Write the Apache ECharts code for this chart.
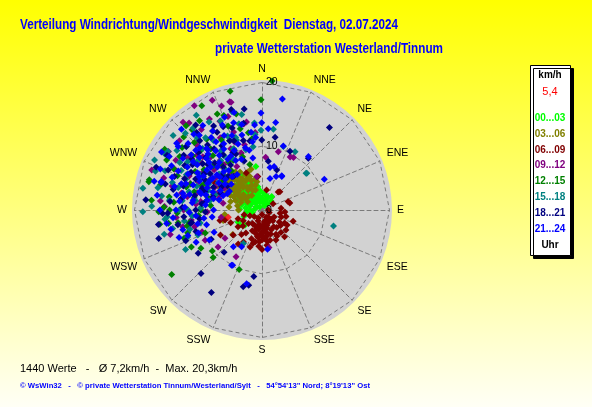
<!DOCTYPE html>
<html><head><meta charset="utf-8">
<script src="https://cdn.jsdelivr.net/npm/echarts@6/dist/echarts.min.js"></script>
<style>html,body{margin:0;padding:0;background:#fff;}#c{width:592px;height:407px;}</style>
</head><body><div id="c"></div>
<script>
// ---- labels ----
const dirLabels = ['N','NNE','NE','ENE','E','ESE','SE','SSE','S','SSW','SW','WSW','W','WNW','NW','NNW'];
const radiusTicks = [0, 10, 20];
const hourGroups = ['00...03','03...06','06...09','09...12','12...15','15...18','18...21','21...24'];
const hourColors = ['#00ff00','#808000','#800000','#800080','#008000','#008080','#000080','#0000ff'];
const titleText = 'Verteilung Windrichtung/Windgeschwindigkeit  Dienstag, 02.07.2024';
const subtitleText = 'private Wetterstation Westerland/Tinnum';
const statsText = '1440 Werte   -   Ø 7,2km/h  -  Max. 20,3km/h';
const footerText = '© WsWin32   -   © private Wetterstation Tinnum/Westerland/Sylt   -   54°54\'13" Nord; 8°19\'13" Ost';
const currentLabel = '5,4';

// ---- data: [speed km/h, direction deg] ----
const h00_03 = [[3.2,322],[2.8,330],[3.6,315],[4.1,318],[2.5,340],[1.8,335],[2.2,310],[3.0,305],[4.4,308],[3.8,328],[1.5,350],[2.0,355],[1.2,5],[1.6,18],[2.4,12],[0.8,30],[1.0,300],[3.4,298],[4.0,295],[4.8,312],[5.2,320],[4.6,332],[3.9,340],[2.9,348],[2.1,322],[1.4,318],[2.7,295],[3.3,285],[2.6,278],[1.9,270],[3.5,272],[4.2,300],[5.5,305],[5.0,296],[4.3,325],[3.1,338],[2.3,345],[1.7,2],[2.6,8],[3.0,355],[3.7,350],[4.6,345],[0.6,320],[1.1,280],[2.0,290],[2.9,315],[3.6,302],[4.9,326],[5.6,316],[6.2,330],[6.9,352],[2.2,25],[1.3,40],[3.3,310],[4.0,335],[2.5,262],[1.6,255],[3.0,250],[2.6,36],[2.0,45],[4.2,236],[3.6,228],[4.2,243],[3.4,326],[4.5,315],[2.4,332],[1.9,312],[3.9,305],[5.1,334],[4.7,340],[2.8,352],[3.2,345],[1.3,345],[5.8,325],[2.0,300],[4.1,290],[3.7,338],[2.5,318]];
const h03_06 = [[5.0,313],[4.6,320],[5.4,305],[6.0,310],[3.8,325],[4.2,300],[6.5,318],[5.8,328],[3.4,335],[4.9,340],[6.8,300],[7.2,308],[5.5,295],[4.4,290],[3.6,298],[6.2,335],[7.0,322],[5.2,330],[4.0,345],[3.0,315],[4.7,310],[5.9,302],[6.6,292],[5.1,285],[3.9,280],[7.5,315],[6.9,330],[5.6,340],[4.5,350],[3.2,305],[2.8,325],[5.3,318],[6.3,325],[4.1,332],[5.7,312],[6.1,297],[4.8,302],[3.5,290],[7.8,305],[6.4,340],[5.0,348],[3.3,342],[4.3,327],[5.6,323],[6.7,312],[2.6,300],[5.9,263],[6.3,255],[3.7,270],[5.2,275],[6.0,230],[5.4,312],[6.0,320],[4.6,306],[5.8,300],[6.9,315],[7.3,325],[4.9,295],[5.5,335],[6.4,305],[3.8,310],[7.6,298],[6.6,345],[4.2,338],[5.0,322],[7.0,292]];
const h06_09 = [[2.5,162],[2.0,150],[3.0,170],[1.5,140],[3.5,180],[2.8,195],[1.8,200],[4.0,160],[3.2,145],[4.5,175],[2.2,120],[3.8,130],[1.2,110],[4.2,190],[5.0,185],[3.6,205],[2.6,215],[4.8,200],[1.6,230],[3.0,225],[4.4,215],[5.4,195],[6.1,198],[5.1,192],[4.3,188],[3.4,155],[2.4,135],[4.6,140],[4.1,120],[3.2,110],[4.6,121],[4.3,72],[3.8,42],[4.0,44.5],[3.2,13],[4.5,76],[3.6,95],[2.9,100],[3.9,105],[1.0,90],[0.7,180],[1.9,170],[2.7,178],[3.7,168],[4.9,165],[5.6,172],[5.2,155],[2.1,245],[3.4,240],[4.6,235],[6.0,229],[7.6,239],[6.8,256],[6.0,255],[5.3,248],[4.0,250],[2.9,255],[5.8,210],[6.5,215],[5.0,220],[3.9,230],[2.3,190],[1.4,205],[3.3,198],[4.7,150],[5.5,140],[2.0,60],[3.0,85],[5.2,110],[6.2,180],[4.1,178],[6.3,337],[5.3,353],[7.0,318],[8.5,300],[2.2,155],[2.9,165],[3.4,172],[3.9,183],[4.2,170],[2.6,185],[3.1,190],[1.7,160],[3.6,140],[4.4,150],[5.0,170],[4.7,180],[2.4,175],[3.8,195],[2.0,135],[3.3,125],[4.9,130],[5.7,185],[1.3,150],[2.7,205]];
const h09_12 = [[17.6,344],[18.9,335.6],[19.5,327],[18.5,318],[17.5,338.7],[17.7,343.4],[15.4,334.6],[9.5,15.6],[9.4,28],[9.6,31],[8.3,4],[9.0,230],[7.3,232.6],[10.9,256],[8.4,209],[6.0,169.5],[5.3,351],[10.2,320],[12.5,312],[8.8,305],[11.0,298],[13.6,325],[9.5,340],[7.4,318],[14.2,305],[12.0,290],[10.8,333],[8.2,296],[13.0,340],[11.6,316],[9.1,285],[15.6,300],[14.8,318],[7.9,330],[12.9,282],[10.4,275],[16.2,288],[8.6,268],[11.2,262],[13.5,265],[6.8,300],[9.8,310],[7.0,285],[14.0,350],[12.2,355],[15.8,323],[10.0,250],[6.5,260],[9.2,292],[11.0,302],[8.0,312],[12.6,295],[10.5,285],[7.5,290],[13.3,310],[9.7,278],[6.2,280],[11.8,322],[16.9,310],[15.1,295],[17.3,302],[14.6,285],[16.5,330],[13.8,348],[12.3,270],[14.9,255],[11.5,338],[15.6,340],[17.8,320],[10.6,345],[13.1,330],[16.0,275],[18.4,290],[12.0,308],[10.9,294],[14.5,315],[9.3,320],[11.9,280],[12.7,258],[10.1,242],[15.3,272]];
const h12_15 = [[20.3,4.5],[17.3,359.5],[19.3,345],[16.8,313],[16.7,319],[16.9,297.7],[18.3,285],[18.3,284],[16.2,269],[15.4,271.6],[13.3,261.4],[12.5,242.4],[10.1,230.5],[10.7,225.8],[17.4,234.5],[10.0,201],[11.5,318],[9.2,325],[13.8,308],[12.1,300],[10.5,335],[14.6,328],[8.4,312],[11.9,290],[13.2,345],[9.9,295],[15.0,315],[12.7,330],[7.8,322],[10.8,280],[14.3,292],[8.9,340],[12.3,350],[16.0,338],[11.1,305],[9.6,270],[13.9,275],[7.4,345],[10.3,312],[15.4,303],[12.0,258],[14.8,262],[8.0,288],[9.4,300],[11.0,285],[8.1,275],[12.5,320],[10.2,292],[13.6,300],[7.6,305],[9.8,318],[11.7,270],[8.7,283],[15.9,308],[17.1,325],[14.2,338],[16.4,284],[18.0,302],[13.4,314],[12.0,335],[15.3,295],[14.7,278],[17.8,318],[11.6,260],[13.0,250],[16.2,262],[9.0,330],[10.7,302],[12.4,287],[14.1,322],[18.9,330],[15.6,345],[11.3,352],[17.4,275],[10.0,265],[13.3,268],[16.6,335],[12.7,305],[12.2,253],[9.6,248],[14.5,270],[11.3,238]];
const h15_18 = [[15.3,348],[12.8,8],[12.5,359.3],[11.9,354.7],[10.5,18.6],[10.5,29.6],[18.1,325.3],[16.1,328.9],[17.4,301.9],[19.0,280.4],[18.7,269.2],[15.3,264.5],[14.3,258.3],[13.5,242.6],[10.8,248.6],[12.6,276.7],[11.5,102.7],[9.1,50.6],[6.0,209],[9.0,50.2],[12.0,315],[10.2,305],[14.4,322],[13.1,295],[9.4,330],[11.7,340],[15.5,310],[8.7,318],[13.6,285],[16.4,292],[10.9,290],[12.8,335],[9.8,345],[14.9,300],[11.3,325],[17.0,315],[8.1,302],[13.0,270],[11.0,265],[15.9,278],[7.6,312],[10.0,352],[9.0,290],[11.4,300],[8.3,280],[12.7,308],[10.1,320],[7.2,295],[13.4,316],[9.6,272],[11.8,284],[10.6,335],[8.8,310],[12.3,262],[14.1,296],[7.7,288],[10.9,298],[16.3,305],[17.8,290],[15.4,335],[14.0,345],[13.3,325],[16.8,320],[18.2,310],[14.7,287],[17.3,272],[15.8,256],[12.4,250],[10.5,278],[13.9,303],[12.1,340],[11.1,312],[16.1,343],[9.3,296],[14.6,276],[12.9,292],[17.6,300],[18.6,295],[11.6,270],[15.2,318],[13.7,355],[10.4,325],[11.7,255],[14.9,266],[9.9,258],[16.7,282]];
const h18_21 = [[11.6,10.2],[11.0,359.8],[10.2,25.5],[16.5,343],[15.9,319.8],[16.0,293.1],[14.7,291],[16.8,254.6],[12.1,235.8],[13.8,223.9],[15.2,211.5],[8.9,222],[12.4,193.7],[11.4,259.4],[14.5,275.2],[16.7,39.3],[10.9,41.8],[7.7,7.4],[6.7,20.2],[12.0,190],[10.5,187],[10.5,315],[12.2,322],[9.3,300],[11.8,308],[13.4,312],[8.6,325],[14.1,330],[10.0,290],[12.6,298],[9.7,335],[11.3,345],[13.0,303],[7.9,310],[15.0,305],[10.8,282],[12.9,287],[8.4,295],[11.9,328],[14.6,318],[9.1,318],[13.7,340],[7.3,300],[10.4,270],[12.3,265],[9.0,278],[6.9,320],[11.0,350],[8.2,340],[8.0,285],[9.9,305],[11.5,295],[7.5,315],[12.8,278],[10.2,298],[13.3,320],[8.9,268],[11.1,310],[9.4,288],[6.6,305],[12.0,335],[10.6,325],[14.0,300],[7.0,292],[15.5,310],[16.9,322],[14.4,335],[13.1,292],[17.2,300],[15.7,285],[12.5,272],[14.8,268],[11.2,260],[16.4,262],[13.9,348],[15.2,330],[12.1,313],[10.1,333],[9.5,276],[8.3,310],[14.3,283],[17.9,292],[11.7,338],[13.6,306],[10.7,302],[16.1,350],[18.3,275],[12.9,248],[9.9,262],[10.9,252],[13.4,260],[9.2,240],[15.6,268]];
const h21_24 = [[17.7,10.4],[15.2,359.4],[13.7,359.8],[13.9,8.9],[12.8,4.4],[13.8,346.6],[11.1,41],[17.9,315.1],[16.5,307.1],[16.4,285.8],[16.4,285.2],[13.7,251.7],[9.5,240.3],[9.9,208.9],[7.3,218],[11.8,191.8],[6.6,209],[12.3,251],[12.7,282],[10.9,63.7],[10.6,18.4],[6.1,30.6],[6.8,10.6],[7.1,15.5],[6.2,30],[5.1,14.2],[5.7,22.8],[6.2,172],[9.8,208],[10.0,318],[11.2,312],[9.0,308],[12.4,305],[10.6,300],[8.5,315],[11.8,322],[13.0,318],[9.6,326],[12.0,330],[10.8,295],[8.0,302],[13.5,300],[11.5,290],[9.3,292],[12.8,310],[14.0,312],[7.5,310],[10.3,335],[11.0,340],[8.8,332],[12.6,338],[9.9,285],[13.3,288],[14.5,295],[7.2,295],[10.9,278],[12.1,272],[8.7,280],[11.4,268],[9.2,262],[15.3,320],[14.7,335],[6.8,325],[13.9,325],[10.1,345],[12.3,352],[8.3,350],[15.8,296],[11.7,300],[8.2,290],[9.4,300],[10.7,306],[7.8,283],[6.5,290],[8.9,275],[10.2,286],[11.6,282],[7.1,305],[9.7,314],[12.9,296],[8.1,320],[6.3,310],[11.3,328],[13.2,305],[10.4,265],[7.6,270],[9.0,255],[14.2,285],[12.7,318],[5.9,300],[9.5,296],[11.9,313],[8.6,338],[10.9,322],[7.9,262],[12.4,280],[13.8,315],[6.9,283],[9.2,303],[14.8,303],[15.6,312],[16.2,325],[13.1,333],[14.4,342],[16.8,300],[15.0,290],[13.6,280],[17.2,292],[12.2,345],[15.7,338],[11.4,355],[13.5,270],[15.1,262],[10.3,258],[12.9,326],[14.1,308],[9.8,330],[16.0,318],[11.2,298],[12.6,289],[13.0,276],[17.0,308],[14.6,328],[10.5,310],[8.4,308],[7.0,318],[6.0,295],[9.1,285],[11.0,276],[14.0,265],[16.6,278],[12.2,316],[10.8,352],[13.4,355],[15.9,344],[9.6,348],[18.2,300],[17.5,285],[16.0,270],[10.6,250],[12.8,256],[8.3,245],[14.6,258],[11.5,244]];
const currentValue = [[5.4,258]];

const groupData = [h00_03, h03_06, h06_09, h09_12, h12_15, h15_18, h18_21, h21_24];

// ---- layout ----
const CX = 262, CY = 210;
const DISK_R = 130, RING_R = 127.5;
const R_MAX = 20 * DISK_R / RING_R;
const FONT = '"Liberation Sans", Arial, sans-serif';

function fitScale(text, font, target) {
  const ctx = document.createElement('canvas').getContext('2d');
  ctx.font = font;
  const w = ctx.measureText(text).width;
  return w > 0 ? target / w : 1;
}
const TITLE_FONT = 'bold 14px ' + FONT;
const FOOT_FONT = 'bold 8px ' + FONT;

const chart = echarts.init(document.getElementById('c'), null, {renderer: 'canvas'});

const series = groupData.map((d, i) => ({
  name: hourGroups[i], type: 'scatter', coordinateSystem: 'polar', polarIndex: 0,
  symbol: 'diamond', symbolSize: 7, data: d,
  itemStyle: {color: hourColors[i], opacity: 1}, z: 3, silent: true
}));
series.push({
  name: currentLabel, type: 'scatter', coordinateSystem: 'polar', polarIndex: 0,
  symbol: 'diamond', symbolSize: 7, data: currentValue,
  itemStyle: {color: '#ff0000'}, z: 4, silent: true
});

const legendGraphics = [{
  type: 'rect', left: 530, top: 65, z: 10,
  shape: {width: 40, height: 190},
  style: {fill: '#ffffff', stroke: '#000000', lineWidth: 1, shadowColor: '#000', shadowOffsetX: 3, shadowOffsetY: 3, shadowBlur: 0}
}, {
  type: 'text', x: 550, y: 75, z: 11,
  style: {text: 'km/h', fill: '#000', font: 'bold 10px ' + FONT, textAlign: 'center', textVerticalAlign: 'middle'}
}, {
  type: 'text', x: 550, y: 92, z: 11,
  style: {text: currentLabel, fill: '#ff0000', font: '11px ' + FONT, textAlign: 'center', textVerticalAlign: 'middle'}
}, {
  type: 'text', x: 550, y: 245, z: 11,
  style: {text: 'Uhr', fill: '#000', font: 'bold 10px ' + FONT, textAlign: 'center', textVerticalAlign: 'middle'}
}];
hourGroups.forEach((g, i) => {
  legendGraphics.push({
    type: 'text', x: 550, y: 118 + i * 15.9, z: 11,
    style: {text: g, fill: hourColors[i], font: 'bold 10px ' + FONT, textAlign: 'center', textVerticalAlign: 'middle'}
  });
});

const textGraphics = [
  {type: 'text', x: 20, y: 25, z: 11, scaleX: fitScale(titleText, TITLE_FONT, 378),
   style: {text: titleText, fill: '#0000ff', font: TITLE_FONT, textVerticalAlign: 'middle'}},
  {type: 'text', x: 215, y: 49, z: 11, scaleX: fitScale(subtitleText, TITLE_FONT, 228),
   style: {text: subtitleText, fill: '#0000ff', font: TITLE_FONT, textVerticalAlign: 'middle'}},
  {type: 'text', x: 20, y: 369, z: 11,
   style: {text: statsText, fill: '#000', font: '11px ' + FONT, textVerticalAlign: 'middle'}},
  {type: 'text', x: 20, y: 386, z: 11, scaleX: fitScale(footerText, FOOT_FONT, 350),
   style: {text: footerText, fill: '#0000ff', font: FOOT_FONT, textVerticalAlign: 'middle'}}
];

const option = {
  animation: false,
  backgroundColor: {type: 'linear', x: 0, y: 0, x2: 0, y2: 1,
    colorStops: [{offset: 0, color: '#ffff00'}, {offset: 1, color: '#fffff6'}]},
  polar: [
    {center: [CX, CY], radius: DISK_R},
    {center: [CX, CY], radius: DISK_R}
  ],
  angleAxis: [
    {polarIndex: 0, type: 'value', min: 0, max: 360, interval: 22.5, startAngle: 90, clockwise: true,
     axisLine: {show: false}, axisTick: {show: false}, splitLine: {show: false},
     axisLabel: {margin: 5, color: '#000', fontFamily: FONT, fontSize: 10.5,
       formatter: v => (v >= 360 ? '' : dirLabels[Math.round(v / 22.5) % 16])}},
    {polarIndex: 1, type: 'value', min: 0, max: 360, startAngle: 90, show: false}
  ],
  radiusAxis: [
    {polarIndex: 0, type: 'value', min: 0, max: R_MAX, interval: 10,
     axisLine: {show: false}, axisTick: {show: false}, axisLabel: {show: false},
     splitLine: {show: false},
     splitArea: {show: true, areaStyle: {color: ['#d2d2d2']}}, z: 0},
    {polarIndex: 1, type: 'value', min: 0, max: R_MAX, interval: 10, z: 20,
     axisLine: {show: false}, axisTick: {show: false}, splitLine: {show: false}, splitArea: {show: false},
     axisLabel: {margin: -4, align: 'left', color: '#000', fontFamily: FONT, fontSize: 10.5,
       formatter: v => (radiusTicks.indexOf(Math.round(v * 100) / 100) >= 0 ? String(v) : '')}}
  ],
  radar: {
    center: [CX, CY], radius: RING_R, startAngle: 90, shape: 'polygon', splitNumber: 2, z: 1,
    indicator: dirLabels.map(() => ({name: '', max: 20})),
    axisName: {show: false},
    axisLine: {lineStyle: {color: '#7a7a7a', type: [4, 3], width: 1}},
    splitLine: {lineStyle: {color: '#7a7a7a', type: [4, 3], width: 1}},
    splitArea: {show: false}
  },
  graphic: legendGraphics.concat(textGraphics),
  series: series
};
chart.setOption(option);
</script>
</body></html>
